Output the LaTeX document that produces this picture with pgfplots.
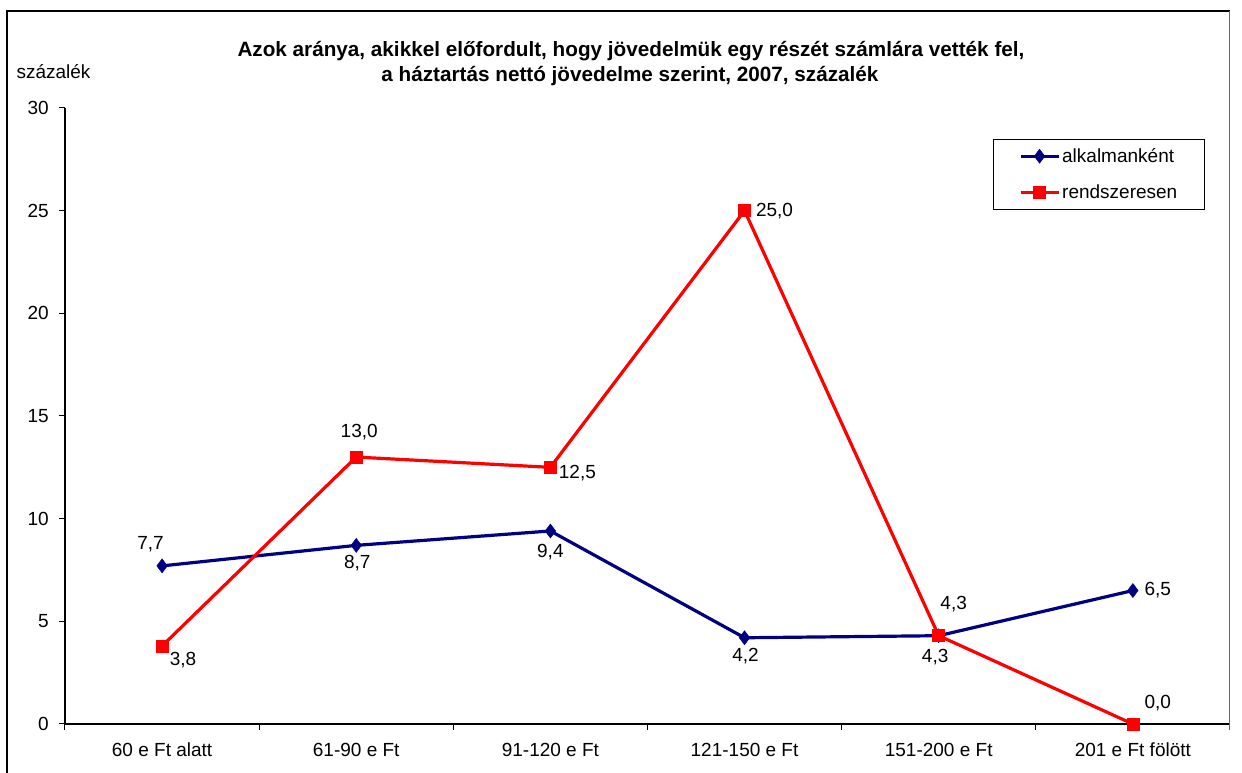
\documentclass[border=0pt]{standalone}
\usepackage{pgfplots}
\pgfplotsset{compat=1.18}
\usepackage{fontspec}
\setmainfont{Liberation Sans}
\definecolor{navyblue}{RGB}{0,0,128}
\definecolor{xlred}{RGB}{255,0,0}
\newcommand{\lblfont}{\fontsize{19}{22}\selectfont}
\begin{document}
\begin{tikzpicture}[x=1pt,y=1pt,font=\lblfont]
\useasboundingbox (-65,-49) rectangle (1177,724);
\begin{axis}[
  at={(0pt,0pt)}, anchor=south west,
  scale only axis, width=1165pt, height=616pt,
  xmin=-0.5, xmax=5.5, ymin=0, ymax=30,
  axis x line*=bottom, axis y line*=left,
  axis line style={black, line width=1.2pt},
  xtick={-0.5,0.5,...,5.5},
  x tick label as interval,
  xticklabels={60 e Ft alatt,61-90 e Ft,91-120 e Ft,121-150 e Ft,151-200 e Ft,201 e Ft fölött},
  ytick={0,5,...,30},
  tick align=outside,
  major tick length=6pt,
  tick style={black, line width=1pt},
  /pgf/number format/assume math mode=true,
  ticklabel style={font=\lblfont},
  yticklabel style={inner sep=0pt, xshift=-10pt},
  xticklabel style={inner sep=0pt, yshift=-13pt},
  clip=false,
  legend style={at={(0.7966,0.9497)}, anchor=north west, draw=black, line width=1pt,
    font=\lblfont, inner xsep=25.5pt, inner ysep=7pt, row sep=17pt,
    cells={anchor=west}},
  legend image code/.code={\draw[mark repeat=2,mark phase=2] plot coordinates {(0pt,0pt)(19pt,0pt)(38pt,0pt)};},
]
\addplot[navyblue, line width=3.2pt, mark=diamond*, mark size=7pt, mark options={solid, fill=navyblue, line width=0.5pt}]
  coordinates {(0,7.7)(1,8.7)(2,9.4)(3,4.2)(4,4.3)(5,6.5)};
\addlegendentry{alkalmanként}
\addplot[xlred, line width=3.2pt, mark=square*, mark size=6pt, mark options={solid, fill=xlred, line width=0.5pt}]
  coordinates {(0,3.8)(1,13.0)(2,12.5)(3,25.0)(4,4.3)(5,0.0)};
\addlegendentry{rendszeresen}
% data labels, blue
\node[xshift=-11.5pt, yshift=22pt] at (axis cs:0,7.7) {7,7};
\node[xshift=1pt, yshift=-18pt] at (axis cs:1,8.7) {8,7};
\node[xshift=0pt, yshift=-21pt] at (axis cs:2,9.4) {9,4};
\node[xshift=1pt, yshift=-18pt] at (axis cs:3,4.2) {4,2};
\node[xshift=-3.5pt, yshift=-21pt] at (axis cs:4,4.3) {4,3};
\node[xshift=25pt, yshift=0pt] at (axis cs:5,6.5) {6,5};
% data labels, red
\node[xshift=21pt, yshift=-14pt] at (axis cs:0,3.8) {3,8};
\node[xshift=3pt, yshift=25pt] at (axis cs:1,13.0) {13,0};
\node[xshift=27pt, yshift=-6pt] at (axis cs:2,12.5) {12,5};
\node[xshift=30pt, yshift=0pt] at (axis cs:3,25.0) {25,0};
\node[xshift=15pt, yshift=32pt] at (axis cs:4,4.3) {4,3};
\node[xshift=25pt, yshift=21pt] at (axis cs:5,0.0) {0,0};
\end{axis}
\draw[black, line width=1.3pt] (-58,-60) -- (-58,713) -- (1164.5,713);
\draw[gray!80!black, line width=1.5pt] (1164.5,713) -- (1164.5,-6);
\node[font=\fontsize{20.7}{24}\selectfont\bfseries] at (566,673) {Azok aránya, akikkel előfordult, hogy jövedelmük egy részét számlára vették fel,};
\node[font=\fontsize{20.7}{24}\selectfont\bfseries] at (565,648) {a háztartás nettó jövedelme szerint, 2007, százalék};
\node at (-11.5,652) {százalék};
\end{tikzpicture}
\end{document}
